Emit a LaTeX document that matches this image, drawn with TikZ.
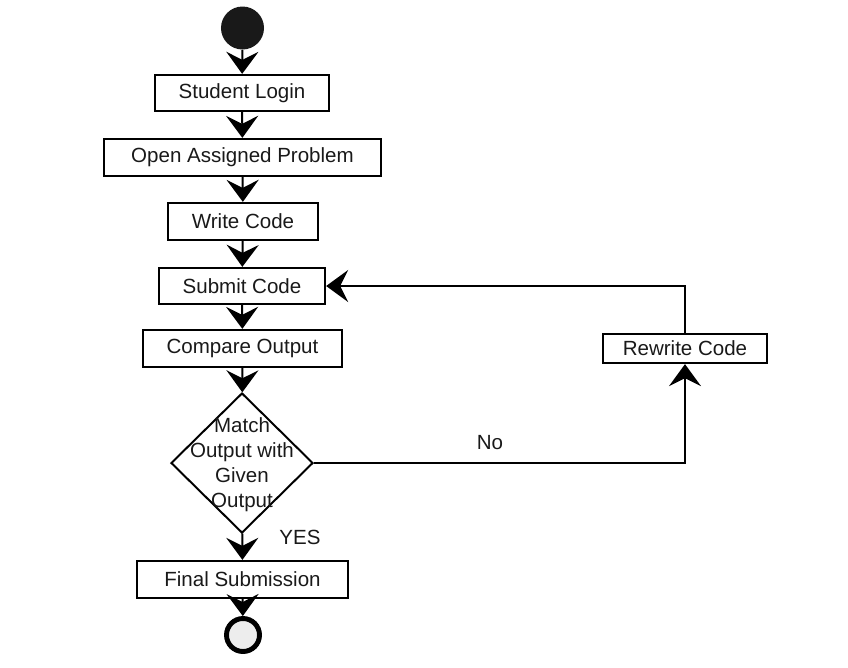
\documentclass[tikz,border=0pt]{standalone}
\usepackage{fontspec}
\setmainfont{Liberation Sans}
\usetikzlibrary{arrows.meta,shapes.geometric}

\begin{document}
\begin{tikzpicture}[x=0.025cm, y=-0.025cm,
		txt/.style={font=\fontsize{14.6}{17.7}\selectfont, text=black!90},
		act/.style={txt, draw, line width=1.6pt, inner sep=0pt},
		flow/.style={line width=1.4pt, -{Stealth[length=0.55cm, width=0.8cm, inset=0.2cm]}}]
	\useasboundingbox (0,0) rectangle (848,667);
	
	\node [circle, fill=black!90, minimum size=1.075cm, inner sep=0pt] (start) at (242.5,28) {};
	\node [act, minimum width=4.35cm, minimum height=0.9cm] (login) at (242,93) {Student Login};
	\node [act, minimum width=6.925cm, minimum height=0.925cm] (open) at (242.5,157.5) {Open Assigned Problem};
	\node [act, minimum width=3.75cm, minimum height=0.925cm] (write) at (243,221.5) {Write Code};
	\node [act, minimum width=4.15cm, minimum height=0.9cm] (submit) at (242,286) {Submit Code};
	\node [act, minimum width=4.975cm, minimum height=0.925cm] (compare) at (242.5,348.5) {Compare Output};
	\node [diamond, draw, line width=1.4pt, minimum width=3.55cm, minimum height=3.5cm, inner sep=0pt] (match) at (242,463) {};
	\node [txt, align=center, inner sep=0pt] (matchtext) at (242,465) {Match\\Output with\\Given\\Output};
	\node [act, minimum width=5.275cm, minimum height=0.925cm] (final) at (242.5,579.5) {Final Submission};
	\node [circle, draw, line width=3.5pt, fill=black!7, minimum size=0.825cm, inner sep=0pt] (stop) at (243,635) {};
	\node [act, minimum width=4.1cm, minimum height=0.725cm] (rewrite) at (685,348.5) {Rewrite Code};
	
	\draw [flow] (start) -- (login);
	\draw [flow] (login) -- (open);
	\draw [flow] (open) -- (write);
	\draw [flow] (write) -- (submit);
	\draw [flow] (submit) -- (compare);
	\draw [flow] (compare) -- (match);
	\draw [flow] (match) -- (final);
	\draw [flow] (final) -- (stop);
	\draw [flow] (match.east) -| (rewrite.south);
	\draw [flow] (rewrite.north) |- (submit.east);
	
	\node [txt] (yes) at (300,537) {YES};
	\node [txt] (no) at (490,443) {No};
\end{tikzpicture}
\end{document}
